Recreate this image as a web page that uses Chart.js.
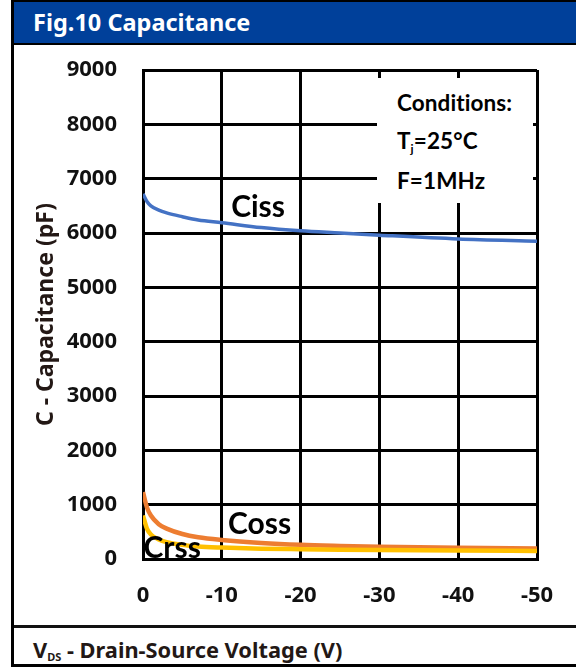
<!DOCTYPE html>
<html>
<head>
<meta charset="utf-8">
<script src="https://cdn.jsdelivr.net/npm/chart.js@4.4.1/dist/chart.umd.min.js"></script>
<style>
  html, body { margin: 0; padding: 0; background: #fff; }
  body { width: 576px; height: 670px; position: relative; overflow: hidden; font-family: "Noto Sans", sans-serif; }
  #frame { position: absolute; left: 11px; top: 0; width: 620px; height: 667px; border: 3px solid #000; box-sizing: border-box; }
  #header { position: absolute; left: 14px; top: 2px; width: 600px; height: 41px; background: #00409a; border-bottom: 2px solid #000; }
  #header span { position: absolute; left: 19px; top: 3px; color: #fff; font-weight: 700; font-size: 23.5px; line-height: 34px; }
  #footsep { position: absolute; left: 14px; top: 625px; width: 600px; height: 3px; background: #111; }
  #footer { position: absolute; left: 33px; top: 636px; font-weight: 700; font-size: 21.8px; line-height: 28px; color: #231815; }
  #footer sub { font-size: 11px; vertical-align: -3px; }
  #wrap { position: absolute; left: 14px; top: 45px; width: 562px; height: 580px; }
  #cond { position: absolute; left: 377px; top: 78px; width: 156px; height: 125px; background: #fff; font-family: Lato, sans-serif; font-weight: 700; color: #000; }
  #cond div { position: absolute; left: 20px; font-size: 22.5px; line-height: 24px; letter-spacing: 0.1px; }
  #cond sub { font-size: 12px; vertical-align: -4px; }
</style>
</head>
<body>
<div id="frame"></div>
<div id="header"><span>Fig.10 Capacitance</span></div>
<div id="wrap"><canvas id="c"></canvas></div>
<div id="cond">
  <div style="top:13px">Conditions:</div>
  <div style="top:51px">T<sub>j</sub>=25°C</div>
  <div style="top:91px">F=1MHz</div>
</div>
<div id="footsep"></div>
<div id="footer">V<sub>DS</sub> - Drain-Source Voltage (V)</div>
<script>
// Drain-source voltage (V)
const vds = [0, -0.5, -1, -2, -3, -5, -7, -10, -15, -20, -25, -30, -40, -50];
// Capacitances (pF)
const ciss = [6720, 6580, 6500, 6420, 6370, 6300, 6240, 6190, 6100, 6040, 6000, 5960, 5890, 5850];
const coss = [1230, 950, 800, 640, 560, 460, 400, 350, 295, 260, 240, 225, 205, 195];
const crss = [800, 560, 450, 360, 310, 260, 230, 210, 190, 180, 172, 165, 155, 148];
// Tick labels
const xTicks = [0, -10, -20, -30, -40, -50];
const yTicks = [0, 1000, 2000, 3000, 4000, 5000, 6000, 7000, 8000, 9000];
// Curve label anchors (data coordinates)
const curveNames = ["Ciss", "Coss", "Crss"];
const curveLabelX = [-14.6, -14.8, -3.7];
const curveLabelY = [6480, 644, 202];

const toPts = (ys) => vds.map((x, i) => ({x: x, y: ys[i]}));

const curveLabels = {
  id: 'curveLabels',
  afterDatasetsDraw(chart) {
    const {ctx, scales} = chart;
    ctx.save();
    ctx.font = '700 30px Lato, sans-serif';
    ctx.fillStyle = '#000';
    ctx.textAlign = 'center';
    ctx.textBaseline = 'middle';
    curveNames.forEach((n, i) => {
      ctx.fillText(n, scales.x.getPixelForValue(curveLabelX[i]), scales.y.getPixelForValue(curveLabelY[i]));
    });
    ctx.restore();
  }
};

new Chart(document.getElementById('c'), {
  type: 'line',
  data: {
    datasets: [
      {label: 'Ciss', data: toPts(ciss), borderColor: '#4472c4', borderWidth: 3.5, pointRadius: 0, cubicInterpolationMode: 'monotone'},
      {label: 'Crss', data: toPts(crss), borderColor: '#ffc000', borderWidth: 4.5, pointRadius: 0, cubicInterpolationMode: 'monotone'},
      {label: 'Coss', data: toPts(coss), borderColor: '#ed7d31', borderWidth: 4.5, pointRadius: 0, cubicInterpolationMode: 'monotone'}
    ]
  },
  options: {
    responsive: true,
    maintainAspectRatio: false,
    animation: false,
    layout: {padding: {left: 0, top: 25, right: 39, bottom: 0}},
    plugins: {legend: {display: false}, tooltip: {enabled: false}},
    scales: {
      x: {
        type: 'linear', min: -50, max: 0, reverse: true,
        afterFit: (s) => { s.height = 66; s.paddingLeft = 0; s.paddingRight = 0; },
        afterBuildTicks: (s) => { s.ticks = xTicks.map(v => ({value: v})); },
        grid: {color: '#000', lineWidth: 3, drawTicks: false},
        border: {color: '#000', width: 3},
        ticks: {color: '#111', padding: 24, font: {family: 'Noto Sans', weight: '700', size: 22}, callback: (v) => String(v)}
      },
      y: {
        min: 0, max: 9000,
        afterFit: (s) => { s.width = 129; s.paddingTop = 0; s.paddingBottom = 0; },
        afterBuildTicks: (s) => { s.ticks = yTicks.map(v => ({value: v})); },
        grid: {color: '#000', lineWidth: 3, drawTicks: false},
        border: {color: '#000', width: 3},
        ticks: {color: '#111', padding: 26, font: {family: 'Noto Sans', weight: '700', size: 22}, callback: (v) => String(v)},
        title: {display: true, text: 'C - Capacitance (pF)', color: '#231815', padding: {top: 19, bottom: 0}, font: {family: 'Noto Sans', weight: '700', size: 23}}
      }
    }
  },
  plugins: [curveLabels]
});
</script>
</body>
</html>
